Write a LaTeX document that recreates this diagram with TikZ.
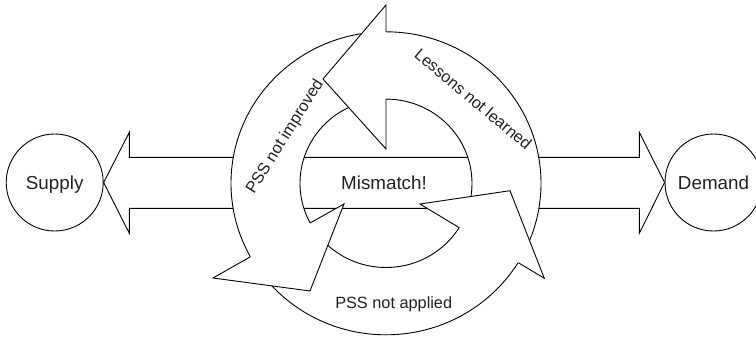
\documentclass[tikz,border=0pt]{standalone}
\usepackage{fontspec}
\setmainfont{Liberation Sans}
\definecolor{txt}{rgb}{0.13,0.13,0.13}
\begin{document}
\begin{tikzpicture}[x=1pt,y=-1pt,
  outline/.style={draw=black, line width=0.9pt, line join=miter, fill=white},
  edge/.style={draw=black, line width=0.9pt, line join=miter},
  bigtext/.style={font=\fontsize{18.8}{22}\selectfont, text=txt, inner sep=0pt, text height=13.46pt, text depth=0pt},
  lbl/.style={font=\fontsize{16.3}{19}\selectfont, text=txt, inner sep=0pt, text height=11.67pt, text depth=0pt},
  endcircle/.style={circle, draw=black, line width=0.9pt, fill=white, minimum size=97pt, inner sep=0pt}]
\useasboundingbox (0,0) rectangle (756,338);
\clip (0,0) rectangle (756,338);

% end nodes
\node[endcircle] (supply) at (54.7,182.5) {};
\node[endcircle] (demand) at (713.5,182.5) {};

% band (double arrow towards Supply and Demand)
\draw[outline] (supply.east) -- (129.3,132.3) -- (129.3,157.3) -- (639.3,157.3)
  -- (639.3,132.3) -- (demand.west) -- (639.3,233.3) -- (639.3,208.3)
  -- (129.3,208.3) -- (129.3,233.3) -- cycle;

% ring
\coordinate (ctr) at (386,183.3);
\fill[white, even odd rule] (ctr) ellipse [x radius=155pt, y radius=151.5pt]
  (ctr) ellipse [x radius=86pt, y radius=84.2pt];
\draw[edge] (ctr) ellipse [x radius=155pt, y radius=151.5pt];
\draw[edge] (ctr) ellipse [x radius=86pt, y radius=84.2pt];

% arrow heads
% top
\coordinate (tO) at (386,5);   \coordinate (tT) at (323,79);  \coordinate (tI) at (386,149);
\coordinate (tBO) at (386,31.8); \coordinate (tBI) at (386,99.1);
% bottom left
\coordinate (lO) at (213,278); \coordinate (lT) at (310,291); \coordinate (lI) at (344,204);
\coordinate (lBO) at (250,257); \coordinate (lBI) at (310,223);
% bottom right
\coordinate (rO) at (544.3,278.3); \coordinate (rT) at (510,190.7); \coordinate (rI) at (420,204);
\coordinate (rBO) at (518.3,262.7); \coordinate (rBI) at (459.3,227.7);

\foreach \h in {t,l,r}{
  \fill[white] (\h O) -- (\h T) -- (\h I) -- cycle;
  \draw[edge] (\h BO) -- (\h O) -- (\h T) -- (\h I) -- (\h BI);
}

% texts
\node[bigtext] (supplytext) at (supply) {Supply};
\node[bigtext] (demandtext) at (demand) {Demand};
\node[bigtext] (mismatch) at (384,182.5) {Mismatch!};
\node[lbl] (applied) at (393.7,302.5) {PSS not applied};
\node[lbl, rotate=58] (improved) at (284,136) {PSS not improved};
\node[lbl, rotate=-40] (lessons) at (473.3,99) {Lessons not learned};
\end{tikzpicture}
\end{document}
